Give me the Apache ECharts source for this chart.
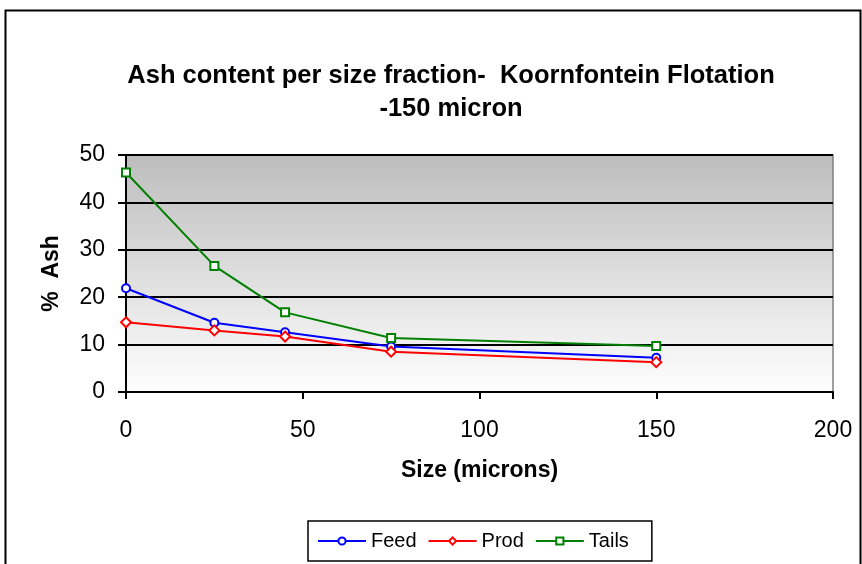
<!DOCTYPE html>
<html>
<head>
<meta charset="utf-8">
<script src="https://cdn.jsdelivr.net/npm/echarts@6/dist/echarts.min.js"></script>
<style>html,body{margin:0;padding:0;background:#fff;}#c{width:862px;height:564px;}</style>
</head>
<body>
<div id="c"></div>
<script>
const sizes = [0, 25, 45, 75, 150];
const feed = [21.9, 14.6, 12.6, 9.6, 7.2];
const prod = [14.7, 13.0, 11.7, 8.5, 6.3];
const tails = [46.3, 26.6, 16.8, 11.4, 9.7];
const seriesNames = ['Feed', 'Prod', 'Tails'];
const titleText = 'Ash content per size fraction-  Koornfontein Flotation\n-150 micron';

const font = '"Liberation Sans", Arial, sans-serif';
const chart = echarts.init(document.getElementById('c'), null, {renderer: 'canvas'});
function pairs(ys) { return sizes.map((x, i) => [x, ys[i]]); }
function mk(name, ys, color, symbol, size) {
  return {
    name: name, type: 'line', data: pairs(ys),
    symbol: symbol, symbolSize: size, showSymbol: true,
    lineStyle: {color: color, width: 2},
    itemStyle: {color: '#fff', borderColor: color, borderWidth: 2},
    emphasis: {disabled: true},
    z: 5
  };
}
chart.setOption({
  animation: false,
  backgroundColor: '#fff',
  graphic: [{
    type: 'rect', left: 3, top: 8, shape: {width: 855, height: 600},
    style: {fill: 'none', stroke: '#000', lineWidth: 2}, silent: true, z: -1
  }],
  title: {
    text: titleText, left: 446, top: 54, textAlign: 'center',
    textStyle: {fontFamily: font, fontSize: 25.5, fontWeight: 'bold', color: '#000', lineHeight: 33}
  },
  legend: {
    data: seriesNames, left: 308, top: 521,
    padding: [10, 23, 10, 9], borderColor: '#000', borderWidth: 1.5,
    itemWidth: 48, itemHeight: 9, itemGap: 11,
    textStyle: {fontFamily: font, fontSize: 20, color: '#000'}
  },
  grid: {
    left: 126, top: 155, width: 707, height: 237, show: true,
    borderColor: '#808080', borderWidth: 1.5,
    backgroundColor: new echarts.graphic.LinearGradient(0, 0, 0, 1, [
      {offset: 0, color: '#bdbdbd'}, {offset: 1, color: '#fefefe'}
    ])
  },
  xAxis: {
    type: 'value', min: 0, max: 200, interval: 50,
    name: 'Size (microns)', nameLocation: 'middle', nameGap: 67,
    nameTextStyle: {fontFamily: font, fontSize: 23, fontWeight: 'bold', color: '#000'},
    axisLine: {show: true, lineStyle: {color: '#000', width: 2}},
    axisTick: {show: true, length: 7, lineStyle: {color: '#000', width: 2}},
    axisLabel: {fontFamily: font, fontSize: 23, color: '#000', margin: 27},
    splitLine: {show: false}
  },
  yAxis: {
    type: 'value', min: 0, max: 50, interval: 10,
    name: '%  Ash', nameLocation: 'middle', nameGap: 63, nameRotate: 90,
    nameTextStyle: {fontFamily: font, fontSize: 23, fontWeight: 'bold', color: '#000'},
    axisLine: {show: true, lineStyle: {color: '#000', width: 2}},
    axisTick: {show: true, length: 8, lineStyle: {color: '#000', width: 2}},
    axisLabel: {fontFamily: font, fontSize: 23, color: '#000', margin: 21},
    splitLine: {show: true, lineStyle: {color: '#000', width: 2}}
  },
  series: [
    mk('Feed', feed, '#0000ff', 'circle', 8),
    mk('Prod', prod, '#ff0000', 'diamond', 10),
    mk('Tails', tails, '#008000', 'rect', 8)
  ]
});
</script>
</body>
</html>
